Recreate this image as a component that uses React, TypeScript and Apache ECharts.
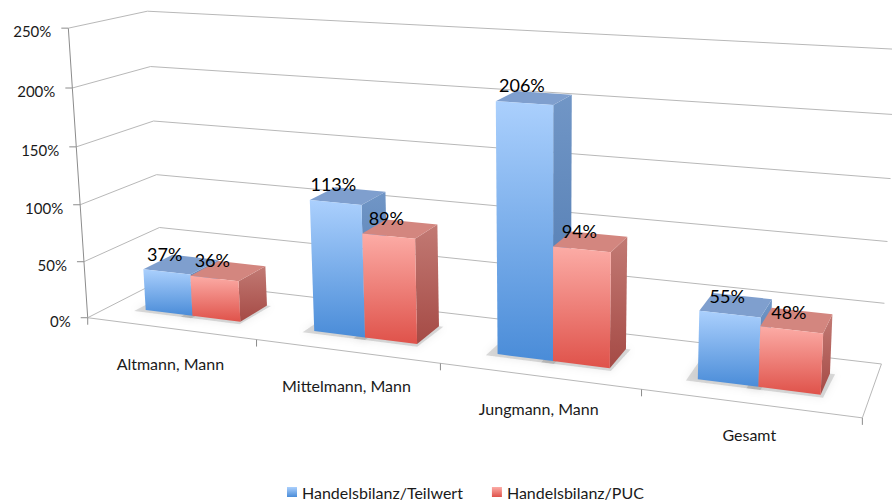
import React, { useEffect, useRef } from 'react';
import * as echarts from 'echarts';

const CATEGORIES = ['Altmann, Mann', 'Mittelmann, Mann', 'Jungmann, Mann', 'Gesamt'];
const SERIES_NAMES = ['Handelsbilanz/Teilwert', 'Handelsbilanz/PUC'];
const TEILWERT = [37, 113, 206, 55];
const PUC = [36, 89, 94, 48];
const VALUE_TICKS = [0, 50, 100, 150, 200, 250];

// Calibration of the perspective frame (camera), not data:
// world X along categories (0..1), Y up (0..1 of value axis), Z depth (0 front .. 1 back) -> screen px
const FRAME_CALIBRATION: number[][] = [
  [0, 0, 0, 88, 317],
  [0, 1, 0, 69, 29],
  [0, 0, 1, 163, 281],
  [0, 1, 1, 147, 10],
  [0, 0.4, 1, 157, 175],
  [0, 0.8, 1, 150, 66],
  [1, 0, 1, 881, 363],
  [1, 0, 0, 863, 417],
  [0.25, 0, 0, 255, 339],
  [0.5, 0, 0, 440, 363],
  [0.75, 0, 0, 642, 391],
  [1, 0.2, 1, 885, 303],
  [1, 0.4, 1, 887, 242],
  [1, 1, 1, 897, 50],
];

function solveProjection(pts: number[][]): number[] {
  const n = 11;
  const M: number[][] = Array.from({ length: n }, () => new Array(n).fill(0));
  const r: number[] = new Array(n).fill(0);
  const add = (row: number[], rhs: number) => {
    for (let i = 0; i < n; i++) {
      r[i] += row[i] * rhs;
      for (let j = 0; j < n; j++) M[i][j] += row[i] * row[j];
    }
  };
  for (const [X, Y, Z, u0, v0] of pts) {
    const u = u0 / 1000, v = v0 / 1000;
    add([X, Y, Z, 1, 0, 0, 0, 0, -u * X, -u * Y, -u * Z], u);
    add([0, 0, 0, 0, X, Y, Z, 1, -v * X, -v * Y, -v * Z], v);
  }
  for (let c = 0; c < n; c++) {
    let piv = c;
    for (let i = c + 1; i < n; i++) if (Math.abs(M[i][c]) > Math.abs(M[piv][c])) piv = i;
    [M[c], M[piv]] = [M[piv], M[c]];
    [r[c], r[piv]] = [r[piv], r[c]];
    for (let i = c + 1; i < n; i++) {
      const f = M[i][c] / M[c][c];
      for (let j = c; j < n; j++) M[i][j] -= f * M[c][j];
      r[i] -= f * r[c];
    }
  }
  const p = new Array(n).fill(0);
  for (let i = n - 1; i >= 0; i--) {
    let s = r[i];
    for (let j = i + 1; j < n; j++) s -= M[i][j] * p[j];
    p[i] = s / M[i][i];
  }
  return p;
}

const PROJ = solveProjection(FRAME_CALIBRATION);

function project(X: number, Y: number, Z: number): number[] {
  const p = PROJ;
  const w = p[8] * X + p[9] * Y + p[10] * Z + 1;
  return [
    (1000 * (p[0] * X + p[1] * Y + p[2] * Z + p[3])) / w,
    (1000 * (p[4] * X + p[5] * Y + p[6] * Z + p[7])) / w,
  ];
}

const GAP_WIDTH = 1.5; // Excel-style gap width (fraction of bar width)
const BAR_Z0 = 0.3;
const BAR_Z1 = 0.7;
const FONT = 'Lato, "Open Sans", sans-serif';
const GRID_COLOR = '#b8b8b8';

const PALETTE = [
  {
    frontTop: '#abd0fd', frontBottom: '#4a8cd8',
    top: '#7f9fce', sideTop: '#7196c6', sideBottom: '#4c77ae',
  },
  {
    frontTop: '#fcaca6', frontBottom: '#df524a',
    top: '#d3867f', sideTop: '#c27a74', sideBottom: '#a54a45',
  },
];

const vgrad = (a: string, b: string) => ({
  type: 'linear', x: 0, y: 0, x2: 0, y2: 1,
  colorStops: [{ offset: 0, color: a }, { offset: 1, color: b }],
});

function norm(cs: any, pt: number[]) {
  return [(pt[0] - cs.x) / cs.width, (cs.y + cs.height - pt[1]) / cs.height];
}

function makeBarSeries(si: number, values: number[]) {
  const pal = PALETTE[si];
  return {
    type: 'custom',
    name: SERIES_NAMES[si],
    silent: true,
    z: 3,
    itemStyle: { color: vgrad(pal.frontTop, pal.frontBottom) },
    data: values.map((v, i) => [i, v]),
    renderItem: (params: any, api: any) => {
      const cs = params.coordSys;
      const cat = api.value(0);
      const val = api.value(1);
      const [Xc, Yt] = norm(cs, api.coord([cat, val]));
      const band = api.size([1, 0])[0] / cs.width;
      const bw = band / (2 + GAP_WIDTH);
      const x0 = si === 0 ? Xc - bw : Xc;
      const x1 = x0 + bw;
      const P = (x: number, y: number, z: number) => project(x, y, z);
      const front = [P(x0, 0, BAR_Z0), P(x1, 0, BAR_Z0), P(x1, Yt, BAR_Z0), P(x0, Yt, BAR_Z0)];
      const top = [P(x0, Yt, BAR_Z0), P(x1, Yt, BAR_Z0), P(x1, Yt, BAR_Z1), P(x0, Yt, BAR_Z1)];
      const side = [P(x1, 0, BAR_Z0), P(x1, 0, BAR_Z1), P(x1, Yt, BAR_Z1), P(x1, Yt, BAR_Z0)];
      const shadow = [
        P(x0 - 0.012, 0, BAR_Z0 - 0.05), P(x1 + 0.004, 0, BAR_Z0 - 0.05),
        P(x1 + 0.006, 0, BAR_Z1), P(x0 - 0.012, 0, BAR_Z1),
      ];
      const lab = P((x0 + x1) / 2 - 0.003, Yt, BAR_Z0);
      return {
        type: 'group',
        children: [
          {
            type: 'polygon', z2: -5, shape: { points: shadow },
            style: { fill: 'rgba(90,90,90,0.22)', shadowBlur: 9, shadowColor: 'rgba(0,0,0,0.35)' },
          },
          { type: 'polygon', z2: 1, shape: { points: side }, style: { fill: vgrad(pal.sideTop, pal.sideBottom) } },
          { type: 'polygon', z2: 1, shape: { points: top }, style: { fill: pal.top } },
          { type: 'polygon', z2: 1, shape: { points: front }, style: { fill: vgrad(pal.frontTop, pal.frontBottom) } },
          {
            type: 'text', z2: 10, x: lab[0], y: lab[1] - 18,
            style: {
              text: val + '%', fill: '#000', font: '18px ' + FONT,
              align: 'center', verticalAlign: 'middle', textAlign: 'center', textVerticalAlign: 'middle',
            },
          },
        ],
      };
    },
  };
}

const valueFrameSeries = {
  type: 'custom',
  silent: true,
  z: 1,
  data: VALUE_TICKS.map((v, i) => [0, v, i]),
  renderItem: (params: any, api: any) => {
    const cs = params.coordSys;
    const v = api.value(1);
    const idx = api.value(2);
    const [, Y] = norm(cs, api.coord([0, v]));
    const a = project(0, Y, 0);
    const b = project(0, Y, 1);
    const c = project(1, Y, 1);
    const children: any[] = [
      { type: 'polyline', shape: { points: [a, b, c] }, style: { stroke: GRID_COLOR, lineWidth: 1, fill: 'none' } },
      { type: 'line', shape: { x1: a[0] - 7, y1: a[1], x2: a[0], y2: a[1] }, style: { stroke: '#8c8c8c', lineWidth: 1 } },
      {
        type: 'text', x: a[0] - 17, y: a[1] + 3,
        style: {
          text: v + '%', fill: '#1a1a1a', font: '15px ' + FONT,
          align: 'right', verticalAlign: 'middle', textAlign: 'right', textVerticalAlign: 'middle',
        },
      },
    ];
    if (idx < VALUE_TICKS.length - 1) {
      const [, Yn] = norm(cs, api.coord([0, VALUE_TICKS[idx + 1]]));
      const n = project(0, Yn, 0);
      children.push({ type: 'line', shape: { x1: a[0], y1: a[1], x2: n[0], y2: n[1] }, style: { stroke: '#8c8c8c', lineWidth: 1 } });
    }
    return { type: 'group', children };
  },
};

const categoryFrameSeries = {
  type: 'custom',
  silent: true,
  z: 1,
  data: CATEGORIES.map((_, i) => [i, 0]),
  renderItem: (params: any, api: any) => {
    const cs = params.coordSys;
    const i = api.value(0);
    const [Xc] = norm(cs, api.coord([i, 0]));
    const band = api.size([1, 0])[0] / cs.width;
    const Xl = Xc - band / 2;
    const Xr = Xc + band / 2;
    const l = project(Xl, 0, 0);
    const r = project(Xr, 0, 0);
    const m = project(Xc, 0, 0);
    const children: any[] = [
      { type: 'line', shape: { x1: l[0], y1: l[1], x2: r[0], y2: r[1] }, style: { stroke: GRID_COLOR, lineWidth: 1 } },
      { type: 'line', shape: { x1: l[0], y1: l[1], x2: l[0], y2: l[1] + 7 }, style: { stroke: '#8c8c8c', lineWidth: 1 } },
      {
        type: 'text', x: m[0], y: m[1] + 36 - 5 * Xc,
        style: {
          text: CATEGORIES[i], fill: '#1a1a1a', font: '16px ' + FONT,
          align: 'center', verticalAlign: 'middle', textAlign: 'center', textVerticalAlign: 'middle',
        },
      },
    ];
    if (i === CATEGORIES.length - 1) {
      const rb = project(Xr, 0, 1);
      children.push({ type: 'line', shape: { x1: r[0], y1: r[1], x2: r[0], y2: r[1] + 7 }, style: { stroke: '#8c8c8c', lineWidth: 1 } });
      children.push({ type: 'line', shape: { x1: r[0], y1: r[1], x2: rb[0], y2: rb[1] }, style: { stroke: GRID_COLOR, lineWidth: 1 } });
    }
    return { type: 'group', children };
  },
};

export default function App() {
  const ref = useRef<HTMLDivElement>(null);
  useEffect(() => {
    document.body.style.margin = '0';
    if (!ref.current) return;
    const chart = echarts.init(ref.current, undefined, { renderer: 'svg' });
    chart.setOption({
      animation: false,
      backgroundColor: '#ffffff',
      grid: { left: 0, right: 0, top: 0, bottom: 0 },
      xAxis: { type: 'category', data: CATEGORIES, show: false, boundaryGap: true },
      yAxis: { type: 'value', min: 0, max: 250, interval: 50, show: false },
      legend: {
        data: SERIES_NAMES,
        left: 287,
        top: 483,
        padding: 0,
        icon: 'rect',
        itemWidth: 10,
        itemHeight: 10,
        itemGap: 29,
        textStyle: { fontFamily: FONT, fontSize: 16, lineHeight: 18, color: '#1a1a1a' },
        selectedMode: false,
      },
      series: [valueFrameSeries, categoryFrameSeries, makeBarSeries(0, TEILWERT), makeBarSeries(1, PUC)],
    });
    return () => chart.dispose();
  }, []);
  return <div ref={ref} style={{ width: 892, height: 504 }} />;
}
